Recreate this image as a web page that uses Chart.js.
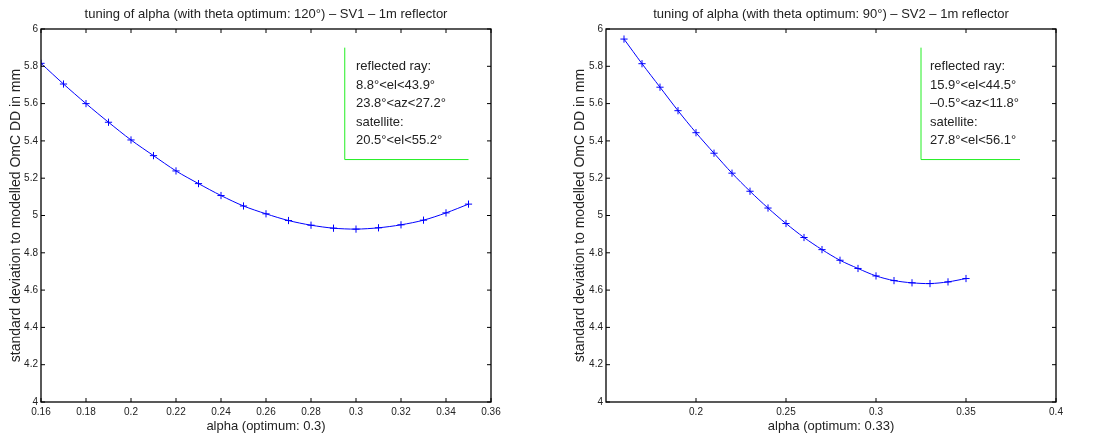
<!DOCTYPE html>
<html>
<head>
<meta charset="utf-8">
<script src="https://cdn.jsdelivr.net/npm/chart.js@4.4.1/dist/chart.umd.min.js"></script>
<style>
  html, body { margin: 0; padding: 0; background: #fff; }
  #wrap { position: relative; width: 1096px; height: 439px; }
  canvas { position: absolute; top: 0; }
</style>
</head>
<body>
<div id="wrap">
  <canvas id="chartSV1" width="548" height="439" style="left:0"></canvas>
  <canvas id="chartSV2" width="548" height="439" style="left:548px"></canvas>
</div>
<script>
const alphaValues = [0.16, 0.17, 0.18, 0.19, 0.20, 0.21, 0.22, 0.23, 0.24, 0.25,
                     0.26, 0.27, 0.28, 0.29, 0.30, 0.31, 0.32, 0.33, 0.34, 0.35];
const stdSV1 = [5.816, 5.705, 5.600, 5.500, 5.405, 5.321, 5.239, 5.171, 5.107, 5.051,
                5.009, 4.973, 4.948, 4.932, 4.927, 4.934, 4.950, 4.975, 5.014, 5.061];
const stdSV2 = [5.946, 5.814, 5.688, 5.562, 5.444, 5.334, 5.227, 5.130, 5.040, 4.957,
                4.882, 4.817, 4.760, 4.716, 4.676, 4.651, 4.639, 4.635, 4.644, 4.662];

const yTicks = [4, 4.2, 4.4, 4.6, 4.8, 5, 5.2, 5.4, 5.6, 5.8, 6];
const xTicksSV1 = [0.16, 0.18, 0.2, 0.22, 0.24, 0.26, 0.28, 0.3, 0.32, 0.34, 0.36];
const xTicksSV2 = [0.2, 0.25, 0.3, 0.35, 0.4];

const noteSV1 = ["reflected ray:", "8.8°<el<43.9°", "23.8°<az<27.2°", "satellite:", "20.5°<el<55.2°"];
const noteSV2 = ["reflected ray:", "15.9°<el<44.5°", "–0.5°<az<11.8°", "satellite:", "27.8°<el<56.1°"];
const noteRows = [5.8, 5.7, 5.6, 5.5, 5.4];

const FONT = "'Liberation Sans', Arial, Helvetica, sans-serif";
const TEXT = "#222";

// MATLAB style frame with inward ticks on all four sides
const framePlugin = {
  id: "frame",
  afterDraw(chart) {
    const { ctx, chartArea: a, scales } = chart;
    ctx.save();
    ctx.strokeStyle = "#000";
    ctx.lineWidth = 1.3;
    ctx.strokeRect(a.left, a.top, a.right - a.left, a.bottom - a.top);
    ctx.lineWidth = 1;
    ctx.beginPath();
    scales.x.ticks.forEach(t => {
      const px = scales.x.getPixelForValue(t.value);
      ctx.moveTo(px, a.bottom); ctx.lineTo(px, a.bottom - 4);
      ctx.moveTo(px, a.top); ctx.lineTo(px, a.top + 4);
    });
    scales.y.ticks.forEach(t => {
      const py = scales.y.getPixelForValue(t.value);
      ctx.moveTo(a.left, py); ctx.lineTo(a.left + 4, py);
      ctx.moveTo(a.right, py); ctx.lineTo(a.right - 4, py);
    });
    ctx.stroke();
    ctx.restore();
  }
};

function makeNotePlugin(lines, x0, x1, textX) {
  return {
    id: "note",
    afterDatasetsDraw(chart) {
      const { ctx, scales } = chart;
      const left = scales.x.getPixelForValue(x0);
      const right = scales.x.getPixelForValue(x1);
      const top = scales.y.getPixelForValue(5.9);
      const bottom = scales.y.getPixelForValue(5.3);
      ctx.save();
      ctx.strokeStyle = "#22ee22";
      ctx.lineWidth = 1;
      ctx.beginPath();
      ctx.moveTo(left, top);
      ctx.lineTo(left, bottom);
      ctx.lineTo(right, bottom);
      ctx.stroke();
      ctx.fillStyle = TEXT;
      ctx.font = "13px " + FONT;
      ctx.textBaseline = "middle";
      ctx.textAlign = "left";
      lines.forEach((txt, i) => {
        ctx.fillText(txt, scales.x.getPixelForValue(textX), scales.y.getPixelForValue(noteRows[i]));
      });
      ctx.restore();
    }
  };
}

function createAlphaChart(canvasId, title, xLabel, values, xMin, xMax, xTicks, yWidth, padRight, yTitlePad, note) {
  return new Chart(document.getElementById(canvasId), {
    type: "line",
    data: {
      datasets: [{
        data: alphaValues.map((a, i) => ({ x: a, y: values[i] })),
        borderColor: "#0000ff",
        borderWidth: 1,
        tension: 0.3,
        pointStyle: "cross",
        pointRadius: 3.6,
        pointBorderWidth: 1,
        pointBorderColor: "#0000ff"
      }]
    },
    options: {
      animation: false,
      responsive: false,
      layout: { padding: { top: 0, left: 0, right: padRight, bottom: 0 } },
      plugins: {
        legend: { display: false },
        tooltip: { enabled: false },
        title: {
          display: true,
          fullSize: false,
          text: title,
          color: TEXT,
          font: { family: FONT, size: 13, weight: "normal" },
          padding: { top: 7, bottom: 6.4 }
        }
      },
      scales: {
        x: {
          type: "linear",
          min: xMin,
          max: xMax,
          afterFit(scale) { scale.height = 37; },
          afterBuildTicks(scale) { scale.ticks = xTicks.map(v => ({ value: v })); },
          grid: { display: false, drawTicks: false },
          border: { display: false },
          ticks: {
            padding: 4,
            color: TEXT,
            font: { family: FONT, size: 10 },
            maxRotation: 0,
            autoSkip: false,
            callback: v => String(+v.toFixed(2))
          },
          title: {
            display: true,
            text: xLabel,
            color: TEXT,
            font: { family: FONT, size: 13 },
            padding: { top: 0, bottom: 4.5 }
          }
        },
        y: {
          min: 4,
          max: 6,
          afterFit(scale) { scale.width = yWidth; },
          afterBuildTicks(scale) { scale.ticks = yTicks.map(v => ({ value: v })); },
          grid: { display: false, drawTicks: false },
          border: { display: false },
          ticks: {
            padding: 3,
            color: TEXT,
            font: { family: FONT, size: 10 },
            autoSkip: false,
            callback: v => String(+v.toFixed(1))
          },
          title: {
            display: true,
            text: "standard deviation to modelled OmC DD in mm",
            color: TEXT,
            font: { family: FONT, size: 14 },
            padding: { top: yTitlePad, bottom: 0 }
          }
        }
      }
    },
    plugins: [framePlugin, note]
  });
}

createAlphaChart(
  "chartSV1",
  "tuning of alpha (with theta optimum: 120°) – SV1 – 1m reflector",
  "alpha (optimum: 0.3)",
  stdSV1, 0.16, 0.36, xTicksSV1, 41, 57, 8,
  makeNotePlugin(noteSV1, 0.295, 0.35, 0.3)
);

createAlphaChart(
  "chartSV2",
  "tuning of alpha (with theta optimum: 90°) – SV2 – 1m reflector",
  "alpha (optimum: 0.33)",
  stdSV2, 0.15, 0.4, xTicksSV2, 58, 40, 24,
  makeNotePlugin(noteSV2, 0.325, 0.38, 0.33)
);
</script>
</body>
</html>
